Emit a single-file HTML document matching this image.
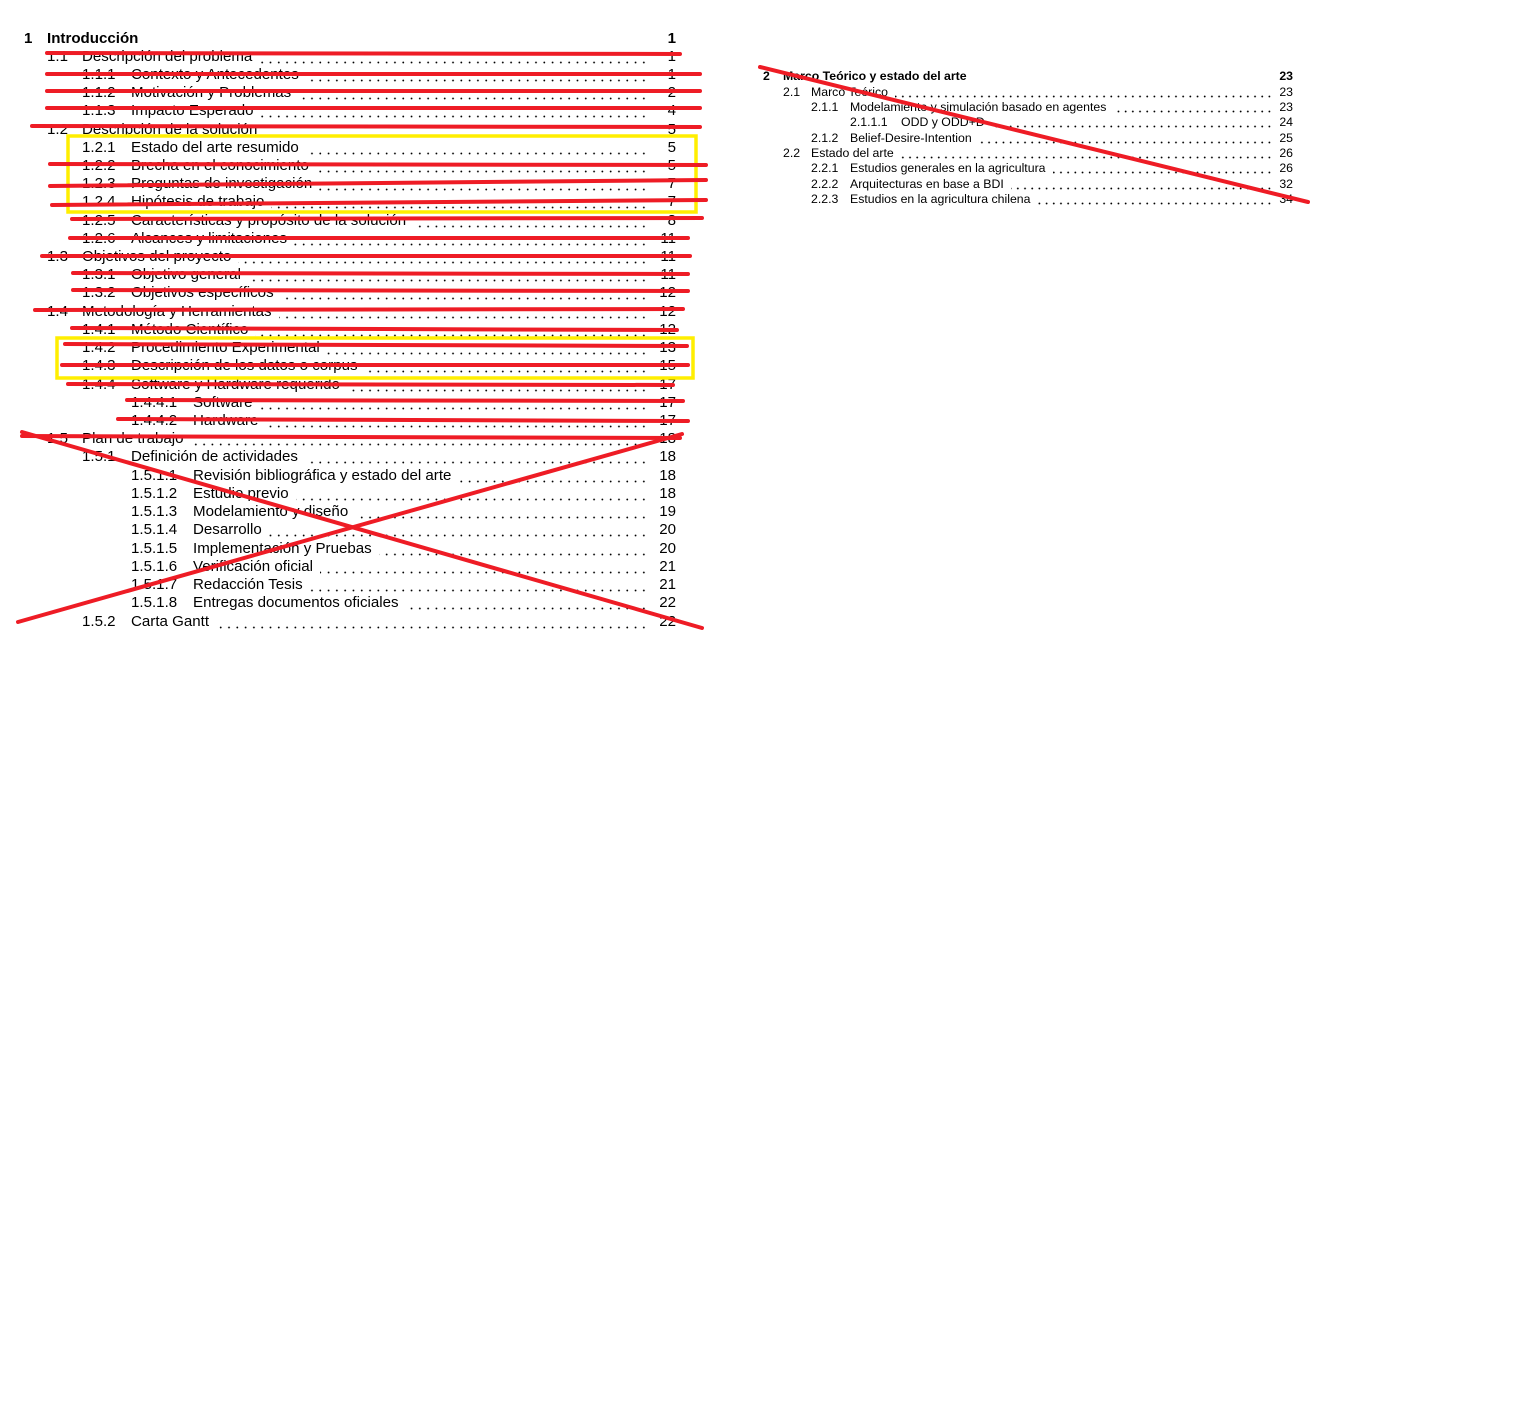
<!DOCTYPE html>
<html><head><meta charset="utf-8"><style>
body{margin:0;background:#fff;width:1539px;height:1413px;position:relative;overflow:hidden;font-family:"Liberation Sans",Arial,sans-serif;color:#000}
.r{position:absolute;height:18px;line-height:18px;font-size:15.1px;white-space:nowrap;margin-top:2px}
.l{background-image:radial-gradient(circle,#000 0.7px,transparent 1.1px);background-size:8.3px 3px;background-repeat:repeat-x;background-position:right 0 top 13px}
.l span{background:#fff;padding-right:7px}
.p{text-align:right;width:40px}
.s{font-size:12.3px;height:15px;line-height:15px;margin-top:1px}
.s.l{background-size:7.2px 3px;background-position:right 0 top 10px}
.b{font-weight:bold}
svg{position:absolute;left:0;top:0}
</style></head><body>
<div class="r b" style="top:28px;left:24px">1</div><div class="r b" style="top:28px;left:47px">Introducción</div><div class="r p b" style="top:28px;left:636px">1</div>

<div class="r" style="top:46px;left:47px">1.1</div><div class="r l" style="top:46px;left:82px;width:566px"><span>Descripción del problema</span></div><div class="r p" style="top:46px;left:636px">1</div>
<div class="r" style="top:64px;left:82px">1.1.1</div><div class="r l" style="top:64px;left:131px;width:517px"><span>Contexto y Antecedentes</span></div><div class="r p" style="top:64px;left:636px">1</div>
<div class="r" style="top:82px;left:82px">1.1.2</div><div class="r l" style="top:82px;left:131px;width:517px"><span>Motivación y Problemas</span></div><div class="r p" style="top:82px;left:636px">2</div>
<div class="r" style="top:100px;left:82px">1.1.3</div><div class="r l" style="top:100px;left:131px;width:517px"><span>Impacto Esperado</span></div><div class="r p" style="top:100px;left:636px">4</div>
<div class="r" style="top:119px;left:47px">1.2</div><div class="r l" style="top:119px;left:82px;width:566px"><span>Descripción de la solución</span></div><div class="r p" style="top:119px;left:636px">5</div>
<div class="r" style="top:137px;left:82px">1.2.1</div><div class="r l" style="top:137px;left:131px;width:517px"><span>Estado del arte resumido</span></div><div class="r p" style="top:137px;left:636px">5</div>
<div class="r" style="top:155px;left:82px">1.2.2</div><div class="r l" style="top:155px;left:131px;width:517px"><span>Brecha en el conocimiento</span></div><div class="r p" style="top:155px;left:636px">5</div>
<div class="r" style="top:173px;left:82px">1.2.3</div><div class="r l" style="top:173px;left:131px;width:517px"><span>Preguntas de investigación</span></div><div class="r p" style="top:173px;left:636px">7</div>
<div class="r" style="top:191px;left:82px">1.2.4</div><div class="r l" style="top:191px;left:131px;width:517px"><span>Hipótesis de trabajo</span></div><div class="r p" style="top:191px;left:636px">7</div>
<div class="r" style="top:210px;left:82px">1.2.5</div><div class="r l" style="top:210px;left:131px;width:517px"><span>Características y propósito de la solución</span></div><div class="r p" style="top:210px;left:636px">8</div>
<div class="r" style="top:228px;left:82px">1.2.6</div><div class="r l" style="top:228px;left:131px;width:517px"><span>Alcances y limitaciones</span></div><div class="r p" style="top:228px;left:636px">11</div>
<div class="r" style="top:246px;left:47px">1.3</div><div class="r l" style="top:246px;left:82px;width:566px"><span>Objetivos del proyecto</span></div><div class="r p" style="top:246px;left:636px">11</div>
<div class="r" style="top:264px;left:82px">1.3.1</div><div class="r l" style="top:264px;left:131px;width:517px"><span>Objetivo general</span></div><div class="r p" style="top:264px;left:636px">11</div>
<div class="r" style="top:282px;left:82px">1.3.2</div><div class="r l" style="top:282px;left:131px;width:517px"><span>Objetivos específicos</span></div><div class="r p" style="top:282px;left:636px">12</div>
<div class="r" style="top:301px;left:47px">1.4</div><div class="r l" style="top:301px;left:82px;width:566px"><span>Metodología y Herramientas</span></div><div class="r p" style="top:301px;left:636px">12</div>
<div class="r" style="top:319px;left:82px">1.4.1</div><div class="r l" style="top:319px;left:131px;width:517px"><span>Método Científico</span></div><div class="r p" style="top:319px;left:636px">12</div>
<div class="r" style="top:337px;left:82px">1.4.2</div><div class="r l" style="top:337px;left:131px;width:517px"><span>Procedimiento Experimental</span></div><div class="r p" style="top:337px;left:636px">13</div>
<div class="r" style="top:355px;left:82px">1.4.3</div><div class="r l" style="top:355px;left:131px;width:517px"><span>Descripción de los datos o corpus</span></div><div class="r p" style="top:355px;left:636px">15</div>
<div class="r" style="top:374px;left:82px">1.4.4</div><div class="r l" style="top:374px;left:131px;width:517px"><span>Software y Hardware requerido</span></div><div class="r p" style="top:374px;left:636px">17</div>
<div class="r" style="top:392px;left:131px">1.4.4.1</div><div class="r l" style="top:392px;left:193px;width:455px"><span>Software</span></div><div class="r p" style="top:392px;left:636px">17</div>
<div class="r" style="top:410px;left:131px">1.4.4.2</div><div class="r l" style="top:410px;left:193px;width:455px"><span>Hardware</span></div><div class="r p" style="top:410px;left:636px">17</div>
<div class="r" style="top:428px;left:47px">1.5</div><div class="r l" style="top:428px;left:82px;width:566px"><span>Plan de trabajo</span></div><div class="r p" style="top:428px;left:636px">18</div>
<div class="r" style="top:446px;left:82px">1.5.1</div><div class="r l" style="top:446px;left:131px;width:517px"><span>Definición de actividades</span></div><div class="r p" style="top:446px;left:636px">18</div>
<div class="r" style="top:465px;left:131px">1.5.1.1</div><div class="r l" style="top:465px;left:193px;width:455px"><span>Revisión bibliográfica y estado del arte</span></div><div class="r p" style="top:465px;left:636px">18</div>
<div class="r" style="top:483px;left:131px">1.5.1.2</div><div class="r l" style="top:483px;left:193px;width:455px"><span>Estudio previo</span></div><div class="r p" style="top:483px;left:636px">18</div>
<div class="r" style="top:501px;left:131px">1.5.1.3</div><div class="r l" style="top:501px;left:193px;width:455px"><span>Modelamiento y diseño</span></div><div class="r p" style="top:501px;left:636px">19</div>
<div class="r" style="top:519px;left:131px">1.5.1.4</div><div class="r l" style="top:519px;left:193px;width:455px"><span>Desarrollo</span></div><div class="r p" style="top:519px;left:636px">20</div>
<div class="r" style="top:538px;left:131px">1.5.1.5</div><div class="r l" style="top:538px;left:193px;width:455px"><span>Implementación y Pruebas</span></div><div class="r p" style="top:538px;left:636px">20</div>
<div class="r" style="top:556px;left:131px">1.5.1.6</div><div class="r l" style="top:556px;left:193px;width:455px"><span>Verificación oficial</span></div><div class="r p" style="top:556px;left:636px">21</div>
<div class="r" style="top:574px;left:131px">1.5.1.7</div><div class="r l" style="top:574px;left:193px;width:455px"><span>Redacción Tesis</span></div><div class="r p" style="top:574px;left:636px">21</div>
<div class="r" style="top:592px;left:131px">1.5.1.8</div><div class="r l" style="top:592px;left:193px;width:455px"><span>Entregas documentos oficiales</span></div><div class="r p" style="top:592px;left:636px">22</div>
<div class="r" style="top:611px;left:82px">1.5.2</div><div class="r l" style="top:611px;left:131px;width:517px"><span>Carta Gantt</span></div><div class="r p" style="top:611px;left:636px">22</div>

<div class="r s b" style="top:68px;left:763px">2</div><div class="r s b" style="top:68px;left:783px">Marco Teórico y estado del arte</div><div class="r s p b" style="top:68px;left:1253px">23</div>
<div class="r s" style="top:84px;left:783px">2.1</div><div class="r s l" style="top:84px;left:811px;width:462px"><span>Marco Teórico</span></div><div class="r s p" style="top:84px;left:1253px">23</div>
<div class="r s" style="top:99px;left:811px">2.1.1</div><div class="r s l" style="top:99px;left:850px;width:423px"><span>Modelamiento y simulación basado en agentes</span></div><div class="r s p" style="top:99px;left:1253px">23</div>
<div class="r s" style="top:114px;left:850px">2.1.1.1</div><div class="r s l" style="top:114px;left:901px;width:372px"><span>ODD y ODD+D</span></div><div class="r s p" style="top:114px;left:1253px">24</div>
<div class="r s" style="top:130px;left:811px">2.1.2</div><div class="r s l" style="top:130px;left:850px;width:423px"><span>Belief-Desire-Intention</span></div><div class="r s p" style="top:130px;left:1253px">25</div>
<div class="r s" style="top:145px;left:783px">2.2</div><div class="r s l" style="top:145px;left:811px;width:462px"><span>Estado del arte</span></div><div class="r s p" style="top:145px;left:1253px">26</div>
<div class="r s" style="top:160px;left:811px">2.2.1</div><div class="r s l" style="top:160px;left:850px;width:423px"><span>Estudios generales en la agricultura</span></div><div class="r s p" style="top:160px;left:1253px">26</div>
<div class="r s" style="top:176px;left:811px">2.2.2</div><div class="r s l" style="top:176px;left:850px;width:423px"><span>Arquitecturas en base a BDI</span></div><div class="r s p" style="top:176px;left:1253px">32</div>
<div class="r s" style="top:191px;left:811px">2.2.3</div><div class="r s l" style="top:191px;left:850px;width:423px"><span>Estudios en la agricultura chilena</span></div><div class="r s p" style="top:191px;left:1253px">34</div>

<svg width="1539" height="1413" viewBox="0 0 1539 1413">
<g fill="none" stroke="#ffee00" stroke-width="3.5">
<rect x="68" y="136" width="628" height="76"/>
<rect x="57" y="338" width="636" height="40"/>
</g>
<g stroke="#ee1c25" stroke-width="4" stroke-linecap="round" fill="none">
<line x1="47" y1="53" x2="680" y2="54"/>
<line x1="47" y1="74" x2="700" y2="74"/>
<line x1="47" y1="91" x2="700" y2="91"/>
<line x1="47" y1="108" x2="700" y2="108"/>
<line x1="32" y1="126" x2="700" y2="127"/>
<line x1="50" y1="164" x2="706" y2="165"/>
<line x1="50" y1="186" x2="706" y2="180"/>
<line x1="52" y1="205" x2="706" y2="200"/>
<line x1="72" y1="219" x2="702" y2="218"/>
<line x1="70" y1="238" x2="688" y2="238"/>
<line x1="42" y1="256" x2="690" y2="256"/>
<line x1="73" y1="273" x2="688" y2="274"/>
<line x1="73" y1="290" x2="688" y2="291"/>
<line x1="35" y1="310" x2="683" y2="309"/>
<line x1="72" y1="328" x2="677" y2="330"/>
<line x1="65" y1="344" x2="687" y2="346"/>
<line x1="62" y1="365" x2="688" y2="365"/>
<line x1="68" y1="384" x2="673" y2="385"/>
<line x1="127" y1="400" x2="683" y2="401"/>
<line x1="118" y1="419" x2="688" y2="421"/>
<line x1="22" y1="436" x2="680" y2="438"/>
<line x1="22" y1="432" x2="702" y2="628"/>
<line x1="18" y1="622" x2="682" y2="434"/>
<line x1="760" y1="67" x2="1308" y2="202"/>
</g>
</svg>
</body></html>
